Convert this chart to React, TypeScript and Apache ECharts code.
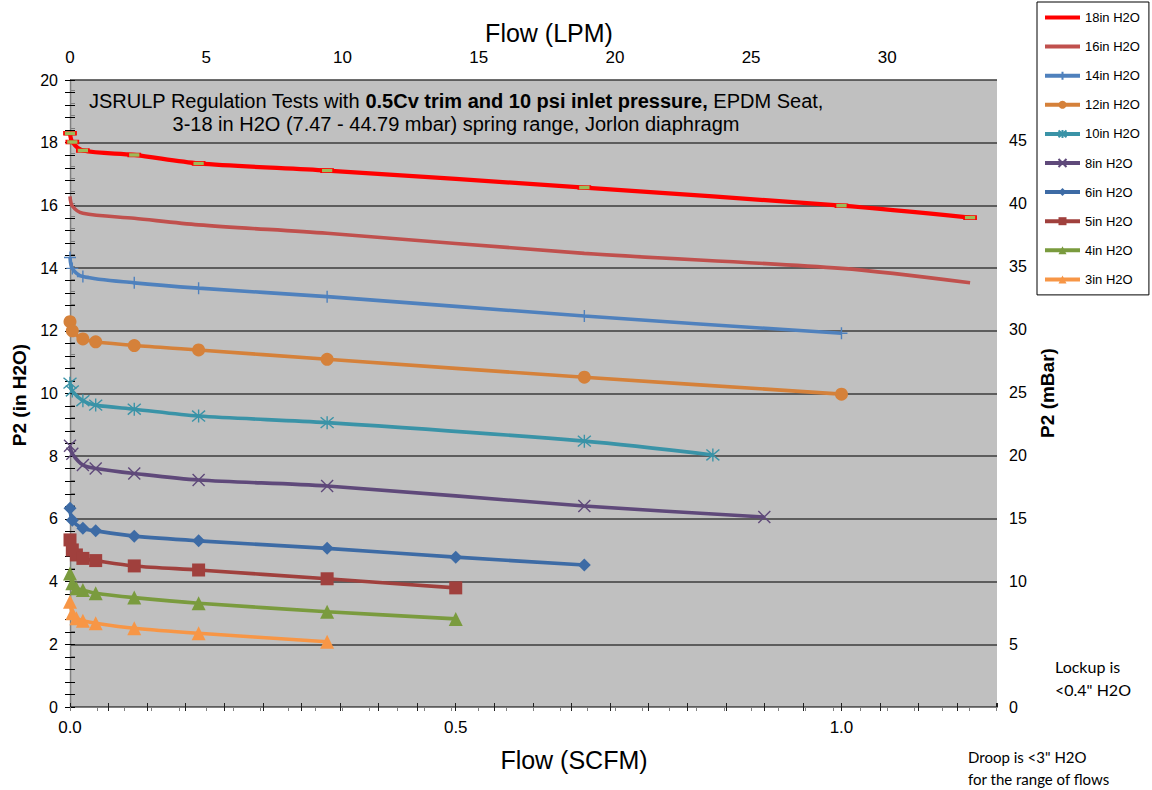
import React, { useEffect, useRef } from 'react';
import * as echarts from 'echarts';

const seriesNames = ['18in H2O', '16in H2O', '14in H2O', '12in H2O', '10in H2O', '8in H2O', '6in H2O', '5in H2O', '4in H2O', '3in H2O'];
const seriesColors = ['#FF0000', '#C0504D', '#4F81BD', '#D5813A', '#3A93A7', '#5F497A', '#3D6BA5', '#A0403D', '#7A9B3E', '#F79646'];

// Flow in SCFM, P2 in inches H2O
const flow18 = [0, 0.003, 0.0167, 0.0833, 0.1667, 0.3333, 0.6667, 1.0, 1.1667];
const p2_18 = [18.30, 18.02, 17.75, 17.61, 17.34, 17.11, 16.57, 15.99, 15.61];
const flow16 = [0, 0.003, 0.0167, 0.0833, 0.1667, 0.3333, 0.6667, 1.0, 1.1667];
const p2_16 = [16.29, 15.98, 15.75, 15.59, 15.38, 15.11, 14.47, 13.99, 13.53];
const flow14 = [0, 0.003, 0.0167, 0.0833, 0.1667, 0.3333, 0.6667, 1.0];
const p2_14 = [14.34, 13.99, 13.73, 13.53, 13.36, 13.09, 12.47, 11.92];
const flow12 = [0, 0.003, 0.0167, 0.0333, 0.0833, 0.1667, 0.3333, 0.6667, 1.0];
const p2_12 = [12.29, 12.0, 11.74, 11.65, 11.53, 11.39, 11.09, 10.52, 9.98];
const flow10 = [0, 0.003, 0.0167, 0.0333, 0.0833, 0.1667, 0.3333, 0.6667, 0.8333];
const p2_10 = [10.33, 10.08, 9.77, 9.63, 9.50, 9.28, 9.07, 8.48, 8.04];
const flow8 = [0, 0.003, 0.0167, 0.0333, 0.0833, 0.1667, 0.3333, 0.6667, 0.9];
const p2_8 = [8.33, 8.08, 7.72, 7.61, 7.45, 7.24, 7.05, 6.41, 6.06];
const flow6 = [0, 0.003, 0.0167, 0.0333, 0.0833, 0.1667, 0.3333, 0.5, 0.6667];
const p2_6 = [6.34, 5.96, 5.70, 5.62, 5.45, 5.30, 5.06, 4.78, 4.53];
const flow5 = [0, 0.003, 0.0083, 0.0167, 0.0333, 0.0833, 0.1667, 0.3333, 0.5];
const p2_5 = [5.33, 5.01, 4.85, 4.74, 4.67, 4.50, 4.37, 4.09, 3.80];
const flow4 = [0, 0.003, 0.0083, 0.0167, 0.0333, 0.0833, 0.1667, 0.3333, 0.5];
const p2_4 = [4.26, 3.95, 3.79, 3.73, 3.63, 3.49, 3.31, 3.04, 2.81];
const flow3 = [0, 0.003, 0.0083, 0.0167, 0.0333, 0.0833, 0.1667, 0.3333];
const p2_3 = [3.36, 2.99, 2.83, 2.75, 2.67, 2.51, 2.35, 2.08];

const flows = [flow18, flow16, flow14, flow12, flow10, flow8, flow6, flow5, flow4, flow3];
const pressures = [p2_18, p2_16, p2_14, p2_12, p2_10, p2_8, p2_6, p2_5, p2_4, p2_3];

const SCFM_MAX = 1.2016;
const LPM_PER_SCFM = 28.317;
const MBAR_PER_INH2O = 2.49089;
const P2_MAX = 20;

const NARROW = "'Liberation Sans Narrow', 'Arial Narrow', 'Liberation Sans', sans-serif";
const ARIAL = "'Liberation Sans', Arial, sans-serif";

const plusPath = 'path://M6,0L6,12M0,6L12,6';
const xPath = 'path://M0,0L12,12M12,0L0,12';
const starPath = 'path://M1,1L11,11M11,1L1,11M6,0L6,12';

const markerStyles: any[] = [
  { symbol: 'rect', symbolSize: [12, 4], itemStyle: { color: '#9BBB59', borderColor: '#FF0000', borderWidth: 1 } },
  { symbol: 'none' },
  { symbol: plusPath, symbolSize: 12, stroke: true },
  { symbol: 'circle', symbolSize: 13 },
  { symbol: starPath, symbolSize: 13, stroke: true },
  { symbol: xPath, symbolSize: 12, stroke: true },
  { symbol: 'diamond', symbolSize: 13 },
  { symbol: 'rect', symbolSize: 13 },
  { symbol: 'triangle', symbolSize: 14 },
  { symbol: 'triangle', symbolSize: 14 },
];

const multipleOf = (v: number, step: number) => Math.abs(v / step - Math.round(v / step)) < 1e-6;

export default function App() {
  const ref = useRef<HTMLDivElement>(null);
  useEffect(() => {
    document.body.style.margin = '0';
    const chart = echarts.init(ref.current!, null, { renderer: 'svg' });

    const series = seriesNames.map((name, i) => {
      const c = seriesColors[i];
      const m = markerStyles[i];
      let itemStyle: any = { color: c };
      if (m.itemStyle) itemStyle = m.itemStyle;
      else if (m.stroke) itemStyle = { color: 'rgba(0,0,0,0)', borderColor: c, borderWidth: 1.4 };
      return {
        name,
        type: 'line',
        xAxisIndex: 0,
        yAxisIndex: 0,
        data: flows[i].map((x, k) => [x, pressures[i][k]]),
        smooth: 0.3,
        symbol: m.symbol,
        symbolSize: m.symbolSize,
        showSymbol: m.symbol !== 'none',
        itemStyle,
        lineStyle: { color: c, width: i === 0 ? 4.2 : 3.6 },
        z: 10 - i,
      };
    });

    const legendData = seriesNames.map((name, i) =>
      i < 2 ? { name, itemStyle: { opacity: 0 } } : { name }
    );

    const option: any = {
      animation: false,
      backgroundColor: '#ffffff',
      grid: {
        left: 70, top: 80, right: 155, bottom: 83,
        show: true, backgroundColor: '#C0C0C0', borderWidth: 0,
        outerBoundsMode: 'none', containLabel: false,
      },
      legend: {
        orient: 'vertical',
        left: 1037, top: 2,
        padding: [9, 9, 9, 6],
        itemWidth: 35, itemHeight: 10, itemGap: 16.1,
        backgroundColor: '#ffffff',
        borderColor: '#000000', borderWidth: 1,
        lineStyle: { width: 4 },
        textStyle: { fontFamily: ARIAL, fontSize: 13, color: '#000' },
        data: legendData,
      },
      xAxis: [
        {
          type: 'value', position: 'bottom', min: 0, max: SCFM_MAX, interval: 0.05,
          axisLine: { show: true, lineStyle: { color: '#202020', width: 1 } },
          axisTick: { show: true, length: 4, lineStyle: { color: '#202020' } },
          axisLabel: {
            margin: 12, fontFamily: NARROW, fontSize: 17, color: '#000',
            showMaxLabel: false,
            formatter: (v: number) => (multipleOf(v, 0.5) ? v.toFixed(1) : ''),
          },
          splitLine: { show: false },
        },
        {
          type: 'value', position: 'top', min: 0, max: SCFM_MAX * LPM_PER_SCFM, interval: 1,
          axisLine: { show: true, lineStyle: { color: '#808080', width: 1 } },
          axisTick: { show: true, inside: true, length: 4, lineStyle: { color: '#808080' } },
          axisLabel: {
            margin: 14, fontFamily: NARROW, fontSize: 17, color: '#000',
            showMaxLabel: false,
            formatter: (v: number) => (multipleOf(v, 5) ? String(Math.round(v)) : ''),
          },
          splitLine: { show: false },
        },
        {
          type: 'value', position: 'bottom', min: 0, max: SCFM_MAX, interval: 0.05,
          axisLine: { show: false },
          axisTick: { show: true, inside: true, length: 4, lineStyle: { color: '#202020' } },
          axisLabel: { show: false },
          splitLine: { show: false },
        },
      ],
      yAxis: [
        {
          type: 'value', position: 'left', min: 0, max: P2_MAX, interval: 2,
          axisLine: { show: true, lineStyle: { color: '#000', width: 1.2 } },
          axisTick: { show: true, length: 5, lineStyle: { color: '#000' } },
          minorTick: { show: true, splitNumber: 5, length: 5, lineStyle: { color: '#000' } },
          axisLabel: { margin: 12, fontFamily: ARIAL, fontSize: 16, color: '#000' },
          splitLine: { show: true, lineStyle: { color: '#3c3c3c', width: 1.5 } },
        },
        {
          type: 'value', position: 'right', min: 0, max: P2_MAX * MBAR_PER_INH2O, interval: 1,
          axisLine: { show: true, lineStyle: { color: '#808080', width: 1 } },
          axisTick: { show: true, length: 5, lineStyle: { color: '#808080' } },
          axisLabel: {
            margin: 12, fontFamily: ARIAL, fontSize: 16, color: '#000',
            showMaxLabel: false,
            formatter: (v: number) => (multipleOf(v, 5) ? String(Math.round(v)) : ''),
          },
          splitLine: { show: false },
        },
        {
          type: 'value', position: 'left', min: 0, max: P2_MAX, interval: 2,
          axisLine: { show: false },
          axisTick: { show: true, inside: true, length: 5, lineStyle: { color: '#000' } },
          minorTick: { show: true, splitNumber: 5, length: 5, lineStyle: { color: '#000' } },
          axisLabel: { show: false },
          splitLine: { show: false },
        },
      ],
      graphic: [
        {
          type: 'text', x: 456, y: 89, z: 100,
          style: {
            text: '{a|JSRULP Regulation Tests with }{b|0.5Cv trim and 10 psi inlet pressure,}{a| EPDM Seat,}\n{a|3-18 in H2O (7.47 - 44.79 mbar) spring range, Jorlon diaphragm}',
            align: 'center',
            rich: {
              a: { fontFamily: NARROW, fontSize: 20, lineHeight: 23, fill: '#000', align: 'center' },
              b: { fontFamily: NARROW, fontSize: 20, lineHeight: 23, fontWeight: 'bold', fill: '#000' },
            },
          },
        },
        {
          type: 'text', x: 549, y: 33,
          style: { text: 'Flow (LPM)', fontFamily: NARROW, fontSize: 25, fill: '#000', align: 'center', verticalAlign: 'middle' },
        },
        {
          type: 'text', x: 574, y: 760,
          style: { text: 'Flow (SCFM)', fontFamily: NARROW, fontSize: 25, fill: '#000', align: 'center', verticalAlign: 'middle' },
        },
        {
          type: 'text', x: 19, y: 395, rotation: Math.PI / 2,
          style: { text: 'P2 (in H2O)', fontFamily: ARIAL, fontSize: 19, fontWeight: 'bold', fill: '#000', align: 'center', verticalAlign: 'middle' },
        },
        {
          type: 'text', x: 1047, y: 393, rotation: Math.PI / 2,
          style: { text: 'P2 (mBar)', fontFamily: ARIAL, fontSize: 19, fontWeight: 'bold', fill: '#000', align: 'center', verticalAlign: 'middle' },
        },
        {
          type: 'text', x: 1055, y: 655,
          style: { text: 'Lockup is\n<0.4" H2O', fontFamily: 'Lato, sans-serif', fontSize: 16, lineHeight: 23, fill: '#000' },
        },
        {
          type: 'text', x: 968, y: 746,
          style: { text: 'Droop is <3" H2O\nfor the range of flows', fontFamily: 'Lato, sans-serif', fontSize: 15, lineHeight: 22, fill: '#000' },
        },
      ],
      series,
    };

    chart.setOption(option);
    return () => chart.dispose();
  }, []);
  return <div ref={ref} style={{ width: 1152, height: 790 }} />;
}
